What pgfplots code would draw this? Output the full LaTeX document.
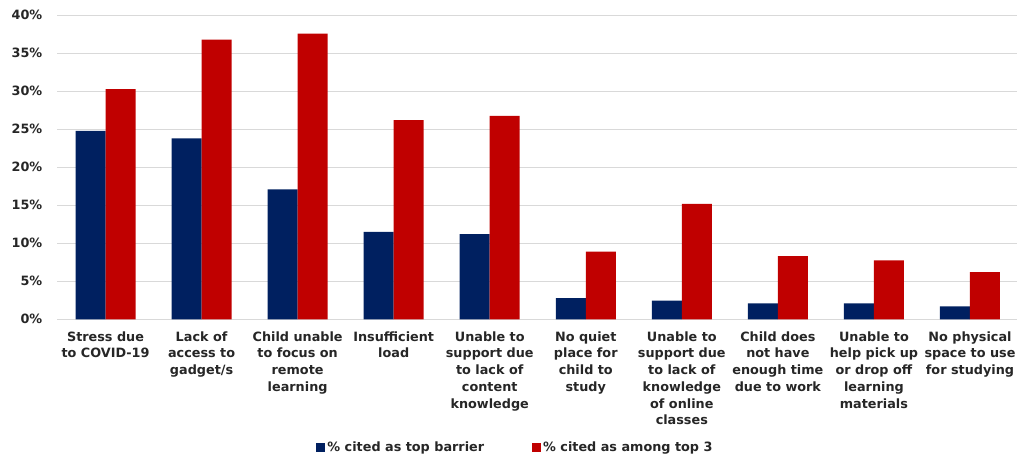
\documentclass[border=0pt]{standalone}
\usepackage{fontspec}
\setmainfont{DejaVu Sans}
\usepackage{pgfplots}
\pgfplotsset{compat=1.18}
\definecolor{barnavy}{HTML}{002060}
\definecolor{barred}{HTML}{C00000}
\definecolor{gridgray}{HTML}{D9D9D9}
\begin{document}
\begin{tikzpicture}
\useasboundingbox (0,0) rectangle (1017pt,455pt);
\begin{axis}[
  at={(57.5pt,135.7pt)}, anchor=south west,
  scale only axis, width=960.5pt, height=304pt,
  ybar=0pt, bar width=30pt,
  xmin=-0.5, xmax=9.5, ymin=0, ymax=40,
  axis line style={draw=none},
  major tick length=0pt,
  ymajorgrids, grid style={gridgray, line width=1pt},
  ytick={0,5,...,40},
  yticklabels={0\%,5\%,10\%,15\%,20\%,25\%,30\%,35\%,40\%},
  xtick={0,...,9},
  xticklabels={
    Stress due\\to COVID-19,
    Lack of\\access to\\gadget/s,
    Child unable\\to focus on\\remote\\learning,
    Insufficient\\load,
    Unable to\\support due\\to lack of\\content\\knowledge,
    No quiet\\place for\\child to\\study,
    Unable to\\support due\\to lack of\\knowledge\\of online\\classes,
    Child does\\not have\\enough time\\due to work,
    Unable to\\help pick up\\or drop off\\learning\\materials,
    No physical\\space to use\\for studying},
  tick label style={font=\fontsize{12.8}{16.7}\selectfont\bfseries, text=black!85},
  xticklabel style={align=center, anchor=north, inner sep=0pt, yshift=-12pt},
  yticklabel style={anchor=east, inner sep=0pt, xshift=-15pt},
  legend columns=2,
  legend style={at={(0.4768,-0.4224)}, anchor=center, draw=none,
    font=\fontsize{12.8}{15}\selectfont\bfseries, text=black!85,
    /tikz/every even column/.style={column sep=46pt},
    nodes={inner sep=2pt}},
  legend image code/.code={\fill[#1] (0pt,-4.5pt) rectangle (9pt,4.5pt);},
]
\addplot[fill=barnavy, draw=none] coordinates {
  (0,24.8) (1,23.8) (2,17.1) (3,11.5) (4,11.2)
  (5,2.8) (6,2.45) (7,2.1) (8,2.1) (9,1.7)};
\addlegendentry{\% cited as top barrier}
\addplot[fill=barred, draw=none] coordinates {
  (0,30.3) (1,36.8) (2,37.6) (3,26.2) (4,26.75)
  (5,8.9) (6,15.2) (7,8.3) (8,7.75) (9,6.2)};
\addlegendentry{\% cited as among top 3}
\end{axis}
\end{tikzpicture}
\end{document}
